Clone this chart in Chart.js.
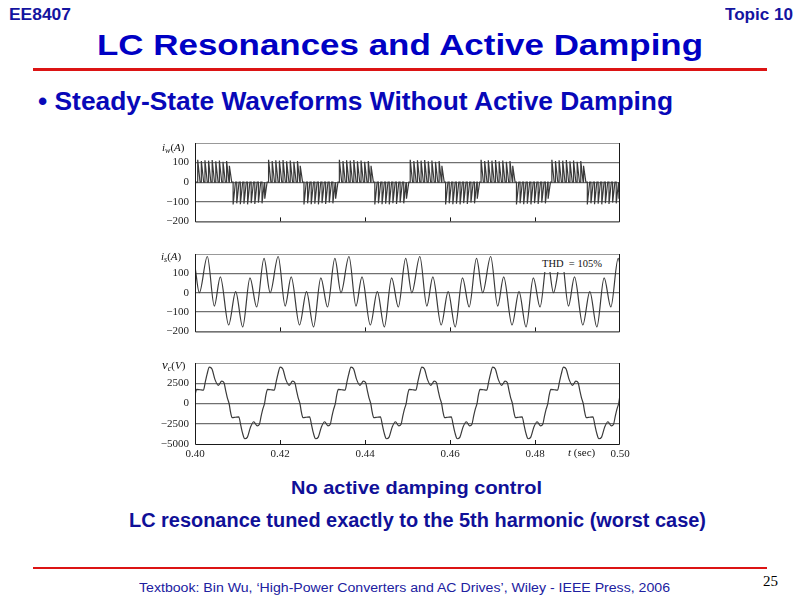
<!DOCTYPE html>
<html>
<head>
<meta charset="utf-8">
<script src="https://cdn.jsdelivr.net/npm/chart.js@4.4.0/dist/chart.umd.min.js"></script>
<style>
  body { margin: 0; background: #fff; }
  #slide { position: relative; width: 800px; height: 600px; overflow: hidden; font-family: "Liberation Sans", Arial, sans-serif; }
  .t { position: absolute; white-space: nowrap; line-height: 1; font-weight: bold; transform-origin: left top; }
  .rule { position: absolute; background: #dc1414; }
  canvas { position: absolute; }
  .lab { position: absolute; white-space: nowrap; font-family: "Liberation Serif", "Times New Roman", serif; font-size: 11px; line-height: 1; color: #111; }
  .lab sub { font-size: 8px; vertical-align: -2px; }
</style>
</head>
<body>
<div id="slide">
  <div class="t" data-w="62" style="left:9px;top:7px;font-size:16px;color:#1414a0">EE8407</div>
  <div class="t" data-w="68" style="left:725px;top:7px;font-size:16px;color:#1414a0">Topic 10</div>
  <div class="t" data-w="606" style="left:97px;top:30px;font-size:30px;color:#0000c4">LC Resonances and Active Damping</div>
  <div class="rule" style="left:33px;top:68px;width:734px;height:3px"></div>
  <div class="t" data-w="635" style="left:38px;top:89px;font-size:25px;color:#0808b8">&bull; Steady-State Waveforms Without Active Damping</div>

  <canvas id="iw" width="480" height="104" style="left:150px;top:130px"></canvas>
  <canvas id="is" width="480" height="104" style="left:150px;top:240px"></canvas>
  <canvas id="vc" width="480" height="115" style="left:150px;top:350px"></canvas>

  <div class="lab" style="left:162px;top:142px"><i>i</i><sub><i>w</i></sub>(<i>A</i>)</div>
  <div class="lab" style="left:161px;top:251px"><i>i</i><sub><i>s</i></sub>(<i>A</i>)</div>
  <div class="lab" style="left:162px;top:358px"><i style="font-size:13px">v</i><sub><i>c</i></sub>(<i>V</i>)</div>
  <div class="lab" style="left:538px;top:255px;width:64px;height:17px;line-height:17px;padding-left:4px;background:#fff;font-size:10.5px">THD &nbsp;= 105%</div>
  <div class="lab" style="left:568px;top:447px"><i>t</i> (sec)</div>

  <div class="t" data-w="251" style="left:291px;top:478px;font-size:19px;color:#101098">No active damping control</div>
  <div class="t" data-w="577" style="left:129px;top:511px;font-size:19.5px;color:#101098">LC resonance tuned exactly to the 5th harmonic (worst case)</div>
  <div class="rule" style="left:33px;top:567px;width:734px;height:2px"></div>
  <div class="t" data-w="531" style="left:139px;top:582px;font-size:12px;font-weight:normal;color:#2020a0">Textbook: Bin Wu, ‘High-Power Converters and AC Drives’, Wiley - IEEE Press, 2006</div>
  <div class="lab" style="left:763px;top:574px;font-size:15px;color:#000">25</div>
</div>

<script>
// axis ticks
const timeTicks = [0.40, 0.42, 0.44, 0.46, 0.48, 0.50];
const innerTicks = [0.42, 0.44, 0.46, 0.48];
const currentTicks = [-200, -100, 0, 100, 200];
const currentTickLabels = ['\u2212200', '\u2212100', '0', '100', ''];
const voltageTicks = [-5000, -2500, 0, 2500, 5000];
const voltageTickLabels = ['\u22125000', '\u22122500', '0', '2500', ''];

// i_w : PWM pulse blocks (one block per half cycle)
const iwBlockStart = [0.40064, 0.40897, 0.41731, 0.42564, 0.43397, 0.44231, 0.45064, 0.45897, 0.46731, 0.47564, 0.48397, 0.49231];
const iwBlockSign = [1, -1, 1, -1, 1, -1, 1, -1, 1, -1, 1, -1];
const iwPulseOffset = [0, 0.00085, 0.0017, 0.00255, 0.0034, 0.00425, 0.0051, 0.00595, 0.0068, 0.00745];
const iwPulsePeak = [114, 108, 112, 110, 113, 107, 111, 104, 108, 84];
const iwPulseFall = 0.00055;

// i_s : extrema of each 60 Hz cycle
const isCycleStart = [0.38435, 0.40102, 0.41769, 0.43435, 0.45102, 0.46769, 0.48435, 0.50102];
const isCycleTime = [0, 0.00188, 0.00353, 0.00494, 0.00690, 0.00855, 0.01020, 0.01192, 0.01349, 0.01522];
const isCycleValue = [0, 187, -69, 82, -167, 6, -177, 77, -74, 177];

// v_c : points of each cycle, from the rising zero crossing
const vcCycleStart = [0.38302, 0.39969, 0.41636, 0.43302, 0.44969, 0.46636, 0.48302, 0.49969];
const vcCycleTime = [0, 0.00031, 0.00071, 0.00149, 0.00228, 0.00275, 0.00314, 0.00369, 0.00431, 0.00502, 0.00580, 0.00659, 0.00714, 0.00753, 0.00792,
                     0.00833, 0.00865, 0.00904, 0.00982, 0.01061, 0.01108, 0.01147, 0.01202, 0.01265, 0.01335, 0.01414, 0.01492, 0.01547, 0.01586, 0.01626];
const vcCycleValue = [0, 1000, 1750, 1700, 1650, 2700, 3600, 4500, 4250, 2950, 2250, 2750, 2550, 1600, 700,
                      0, -1000, -1750, -1700, -1650, -2700, -3600, -4350, -4150, -2950, -2250, -2750, -2550, -1600, -700];

function pulsePoints() {
  const pts = [{ x: 0.39, y: 0 }];
  iwBlockStart.forEach((t0, b) => {
    iwPulseOffset.forEach((dt, p) => {
      const t = t0 + dt;
      pts.push({ x: t, y: 0 }, { x: t, y: iwBlockSign[b] * iwPulsePeak[p] }, { x: t + iwPulseFall, y: 0 });
    });
  });
  pts.push({ x: 0.51, y: 0 });
  return pts;
}

function cyclePoints(starts, times, values) {
  const pts = [];
  starts.forEach(t0 => times.forEach((dt, i) => pts.push({ x: t0 + dt, y: values[i] })));
  return pts;
}

// plot frame + small inward time ticks
const framePlugin = {
  id: 'frame',
  afterDraw(chart) {
    const { ctx, chartArea: a } = chart;
    const xs = chart.scales.x;
    ctx.save();
    ctx.strokeStyle = '#999';
    ctx.lineWidth = 1;
    ctx.beginPath();
    ctx.moveTo(a.left, a.top + 0.5);
    ctx.lineTo(a.right, a.top + 0.5);
    ctx.stroke();
    ctx.strokeStyle = '#1a1a1a';
    ctx.beginPath();
    ctx.moveTo(a.left + 0.5, a.top);
    ctx.lineTo(a.left + 0.5, a.bottom + 0.5);
    ctx.lineTo(a.right - 0.5, a.bottom + 0.5);
    ctx.lineTo(a.right - 0.5, a.top);
    innerTicks.forEach(v => {
      const x = Math.round(xs.getPixelForValue(v)) + 0.5;
      ctx.moveTo(x, a.bottom);
      ctx.lineTo(x, a.bottom - 4);
    });
    ctx.stroke();
    ctx.restore();
  }
};

const serif = { family: '"Liberation Serif", "Times New Roman", serif', size: 11 };

function waveChart(id, points, yTicks, yLabels, padTop, xHeight, showX, smooth) {
  return new Chart(document.getElementById(id), {
    type: 'line',
    data: {
      datasets: [{
        data: points,
        borderColor: '#3a3a3a',
        borderWidth: 1.2,
        pointRadius: 0,
        fill: false,
        tension: 0,
        cubicInterpolationMode: smooth ? 'monotone' : 'default'
      }]
    },
    options: {
      responsive: false,
      animation: false,
      layout: { padding: { top: padTop, right: 10, left: 0, bottom: 0 } },
      plugins: { legend: { display: false }, tooltip: { enabled: false } },
      scales: {
        x: {
          type: 'linear', min: 0.4, max: 0.5,
          afterBuildTicks: s => { s.ticks = timeTicks.map(v => ({ value: v })); },
          afterFit: s => { s.height = xHeight; },
          grid: { display: false },
          border: { display: false },
          ticks: { display: showX, autoSkip: false, maxRotation: 0, padding: -4, color: '#222', font: serif,
                   callback: v => Number(v).toFixed(2) }
        },
        y: {
          min: yTicks[0], max: yTicks[yTicks.length - 1],
          afterBuildTicks: s => { s.ticks = yTicks.map(v => ({ value: v })); },
          afterFit: s => { s.width = 45; },
          grid: { drawTicks: false, lineWidth: 1.2, color: c => (c.index === 0 || c.index === yTicks.length - 1) ? 'rgba(0,0,0,0)' : '#707070' },
          border: { display: false },
          ticks: { padding: 6, color: '#222', font: serif, callback: (v, i) => yLabels[i] }
        }
      }
    },
    plugins: [framePlugin]
  });
}

waveChart('iw', pulsePoints(), currentTicks, currentTickLabels, 13, 9, false, false);
waveChart('is', cyclePoints(isCycleStart, isCycleTime, isCycleValue), currentTicks, currentTickLabels, 14, 9, false, true);
waveChart('vc', cyclePoints(vcCycleStart, vcCycleTime, vcCycleValue), voltageTicks, voltageTickLabels, 13, 21, true, true);

// stretch slide text to the widths seen on the slide
document.querySelectorAll('[data-w]').forEach(el => {
  const w = el.getBoundingClientRect().width;
  el.style.transform = 'scaleX(' + (el.dataset.w / w) + ')';
});
</script>
</body>
</html>
